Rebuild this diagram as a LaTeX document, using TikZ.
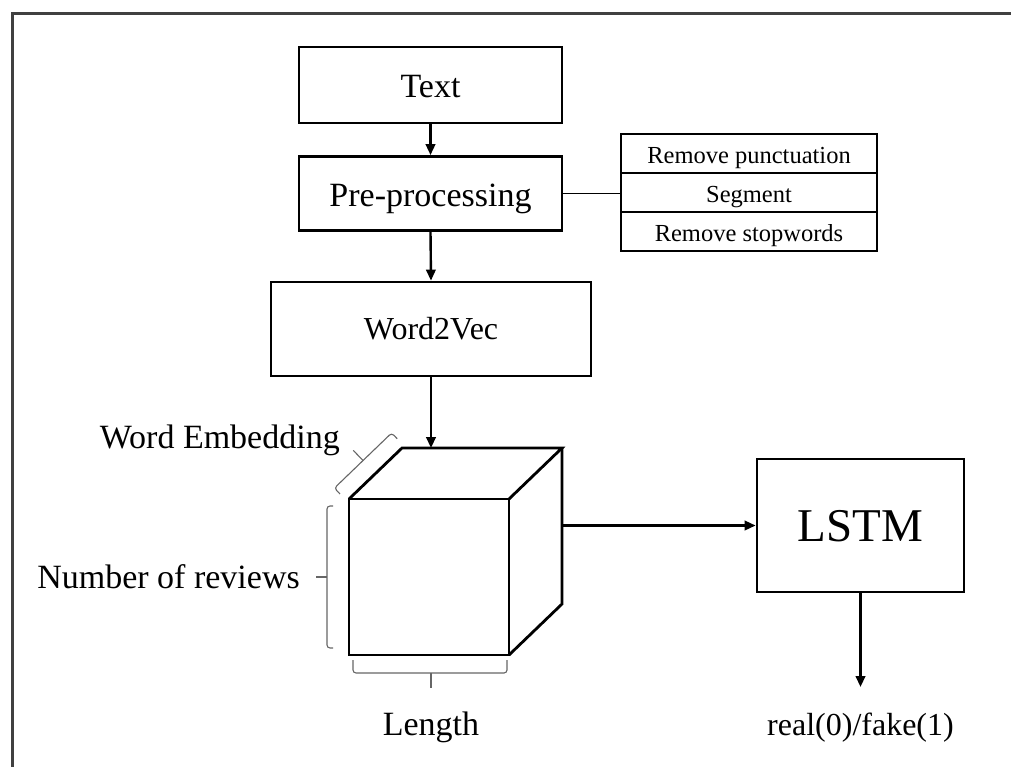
\documentclass[tikz,border=0pt]{standalone}
\usepackage{fontspec}
\setmainfont{Liberation Serif}
\usetikzlibrary{arrows.meta}
\begin{document}
\begin{tikzpicture}[x=1pt,y=-1pt,
  box/.style={draw, line width=2.8pt, inner sep=0pt, text height=26pt, text depth=0pt,
              font=\fontsize{34}{40}\selectfont},
  cell/.style={draw, line width=1.1pt, inner sep=0pt, minimum width=256pt, minimum height=39pt,
              text height=20pt, text depth=0pt, font=\fontsize{24.5}{28}\selectfont},
  arr/.style={-{Triangle[length=11pt,width=9.5pt]}, line width=2.4pt},
  lbl/.style={inner sep=0pt, font=\fontsize{34}{40}\selectfont},
  brc/.style={draw=black!60, line width=1.1pt, rounded corners=3pt},
  cube/.style={line width=2.8pt, line join=miter}]
\useasboundingbox (0,0) rectangle (1011,767);
% frame
\draw[line width=3pt, black!75] (12,767) -- (12,14) -- (1011,14);
% boxes
\node[box, minimum width=263pt, minimum height=76pt] (txt) at (430.5,85) {Text};
\node[box, minimum width=263pt, minimum height=74pt] (pre) at (430.5,193.5) {Pre-processing};
\node[box, minimum width=320pt, minimum height=94pt, text height=21.2pt, font=\fontsize{32}{38}\selectfont] (w2v) at (431,329) {Word2Vec};
\node[box, minimum width=207pt, minimum height=133pt, text height=32pt, font=\fontsize{47}{54}\selectfont] (lstm) at (860.5,525.5) {LSTM};
% table
\node[cell] (t1) at (749,153.5) {Remove punctuation};
\node[cell] (t2) at (749,192.5) {Segment};
\node[cell] (t3) at (749,231.5) {Remove stopwords};
\draw[line width=1.1pt] (pre.east) -- (pre.east -| t2.west);
% cube
\draw[cube] (349,499) rectangle (509,655);
\draw[cube] (349,499) -- (402,448) -- (562,448) -- (509,499);
\draw[cube] (562,448) -- (562,604) -- (509,655);
\coordinate (cubetop) at (431,448);
\coordinate (cuberight) at (562,525.5);
% arrows
\draw[arr] (txt.south) -- (pre.north);
\draw[arr] (pre.south) -- (w2v.north);
\draw[arr] (w2v.south) -- (cubetop);
\draw[arr] (cuberight) -- (lstm.west);
\coordinate (outtip) at (860.5,687);
\draw[arr] (lstm.south) -- (outtip);
% labels
\node[lbl, anchor=base] (out) at (860.5,735) {\fontsize{32}{38}\selectfont real(0)/fake(1)};
\node[lbl, anchor=base east] (we) at (340,448) {Word Embedding};
\node[lbl, anchor=base east] (nr) at (300,588) {Number of reviews};
\node[lbl, anchor=base] (len) at (431,735) {Length};
% brackets
\draw[brc] (339.9,493.9) -- (334.4,488.1) -- (391.6,433.0) -- (397.2,438.7);
\draw[brc, rounded corners=0pt] (363.0,460.5) -- (353.3,450.4);
\draw[brc] (333,506) -- (327,506) -- (327,648) -- (333,648);
\draw[brc, rounded corners=0pt] (327,577) -- (316,577);
\draw[brc] (353,660) -- (353,673) -- (507,673) -- (507,660);
\draw[brc, rounded corners=0pt] (431,673) -- (431,688);
\end{tikzpicture}
\end{document}
